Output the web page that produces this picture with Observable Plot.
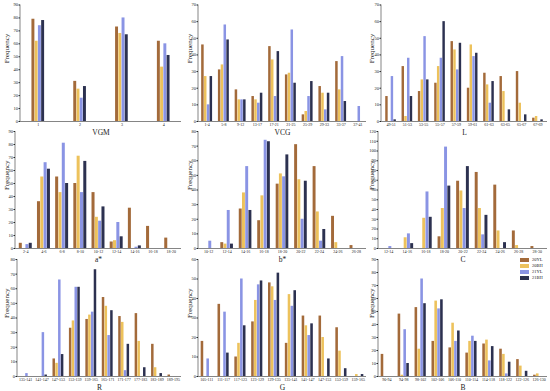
<!DOCTYPE html>
<html><head><meta charset="utf-8">
<script src="https://cdn.jsdelivr.net/npm/d3@7"></script>
<script src="https://cdn.jsdelivr.net/npm/@observablehq/plot@0.6"></script>
<style>
body{margin:0;background:#fff;}
#wrap{position:relative;width:550px;height:391px;overflow:hidden;font-family:"Liberation Serif",serif;}
#wrap svg{position:absolute;}
.lg{position:absolute;font-size:4.5px;line-height:6px;color:#222;}
.lg span{display:inline-block;width:9px;height:3.5px;margin-right:3px;vertical-align:middle;}
</style></head>
<body><div id="wrap"></div>
<script>
const SERIES = ["20YL","20BH","21YL","21BH"];
const COLORS = ["#a36a3a","#edc25c","#8a94e4","#2c3150"];

const vgmCats = ["1","2","3","4"];
const vgm20YL = [79,31,73,62];
const vgm20BH = [62,25,68,42];
const vgm21YL = [74,18,80,60];
const vgm21BH = [78,27,67,51];

const vcgCats = ["1-4","5-8","9-12","13-17","17-21","21-25","25-29","29-33","33-37","37-41"];
const vcg20YL = [46,31,19,15,45,28,4,21,36,0];
const vcg20BH = [27,34,13,13,37,29,6,17,19,0];
const vcg21YL = [10,58,13,11,15,55,15,7,39,9];
const vcg21BH = [27,49,13,17,42,23,24,17,12,0];

const lCats = ["49-51","51-53","53-55","55-57","57-59","59-61","61-63","63-65","65-67","67-69"];
const l20YL = [15,33,18,23,48,20,29,27,30,2];
const l20BH = [0,3,25,33,43,46,22,18,11,3];
const l21YL = [27,38,51,38,31,39,11,0,0,0];
const l21BH = [1,15,25,60,47,41,24,7,4,1];

const aCats = ["2-4","4-6","6-8","8-10","10-12","12-14","14-16","16-18","18-20"];
const a20YL = [4,36,55,50,43,5,31,17,8];
const a20BH = [0,55,43,71,24,6,0,0,0];
const a21YL = [3,66,81,43,21,20,1,0,0];
const a21BH = [4,61,50,67,32,9,2,0,0];

const bCats = ["10-12","12-14","14-16","16-18","18-20","20-22","22-24","24-26","26-28"];
const b20YL = [0,4,27,19,44,71,56,22,2];
const b20BH = [0,3,38,36,51,47,25,4,0];
const b21YL = [5,26,56,74,49,20,5,0,0];
const b21BH = [0,3,26,73,64,46,13,0,0];

const cCats = ["12-14","14-16","16-18","18-20","20-22","22-24","24-26","26-28","28-30"];
const c20YL = [0,0,0,12,69,78,65,18,2];
const c20BH = [0,11,31,41,59,41,18,3,0];
const c21YL = [2,15,58,104,41,14,0,0,0];
const c21BH = [0,5,32,64,84,34,6,0,0];

const rCats = ["135-141","141-147","147-153","153-159","159-165","165-171","171-177","177-183","183-189","189-195"];
const r20YL = [0,0,12,33,39,54,41,43,22,1];
const r20BH = [0,0,9,38,42,48,37,24,6,0];
const r21YL = [2,30,66,61,44,28,4,0,0,0];
const r21BH = [0,1,15,61,73,45,22,6,2,0];

const gCats = ["105-111","111-117","117-123","123-129","129-135","135-141","141-147","147-153","153-159","159-165"];
const g20YL = [18,37,10,28,48,17,31,31,25,0];
const g20BH = [0,0,17,39,46,42,26,20,13,1];
const g21YL = [9,33,50,47,39,36,21,0,0,0];
const g21BH = [0,12,26,49,53,44,27,9,4,1];

const bbCats = ["90-94","94-98","98-102","102-106","106-110","110-114","114-118","118-122","122-126","126-130"];
const bb20YL = [17,48,53,27,22,18,25,21,13,1];
const bb20BH = [0,1,21,58,41,27,28,17,8,2];
const bb21YL = [0,36,75,52,27,31,12,2,0,0];
const bb21BH = [0,10,56,59,35,27,23,11,4,0];

const rows = [{top:0,h:137,mt:4.5,mb:16},{top:127,h:135,mt:4,mb:14},{top:255,h:136,mt:4,mb:15}];
const cols = [{left:0,w:183,mr:2},{left:183,w:185,mr:2},{left:365,w:185,mr:3}];

const panels = [
  {label:"VGM", cats:vgmCats, vals:[vgm20YL,vgm20BH,vgm21YL,vgm21BH], ymax:90, r:0,c:0, ml:20, pi:0.69, po:0.27},
  {label:"VCG", cats:vcgCats, vals:[vcg20YL,vcg20BH,vcg21YL,vcg21BH], ymax:70, r:0,c:1, ml:15, pi:0.33, po:0.18},
  {label:"L", cats:lCats, vals:[l20YL,l20BH,l21YL,l21BH], ymax:70, r:0,c:2, ml:16, pi:0.33, po:0.25},
  {label:"a*", cats:aCats, vals:[a20YL,a20BH,a21YL,a21BH], ymax:90, r:1,c:0, ml:15, pi:0.27, po:0.2},
  {label:"b*", cats:bCats, vals:[b20YL,b20BH,b21YL,b21BH], ymax:80, r:1,c:1, ml:15, pi:0.3, po:0.2},
  {label:"C", cats:cCats, vals:[c20YL,c20BH,c21YL,c21BH], ymax:120, r:1,c:2, ml:13, pi:0.3, po:0.2},
  {label:"R", cats:rCats, vals:[r20YL,r20BH,r21YL,r21BH], ymax:80, r:2,c:0, ml:17, pi:0.32, po:0.15},
  {label:"G", cats:gCats, vals:[g20YL,g20BH,g21YL,g21BH], ymax:60, r:2,c:1, ml:15, pi:0.32, po:0.15},
  {label:"B", cats:bbCats, vals:[bb20YL,bb20BH,bb21YL,bb21BH], ymax:90, r:2,c:2, ml:13, pi:0.32, po:0.15}
];

const wrap = document.getElementById("wrap");
for (const p of panels) {
  const R = rows[p.r], C = cols[p.c];
  const data = [];
  p.cats.forEach((cat, j) => SERIES.forEach((s, i) => data.push({cat, series: s, value: p.vals[i][j]})));
  const band = d3.scaleBand(p.cats, [p.ml, C.w - C.mr]).paddingInner(p.pi).paddingOuter(p.po);
  const sw = band.bandwidth() / 4;
  const bars = SERIES.map((s, i) => Plot.barY(data.filter(d => d.series === s), {
    x: "cat", y: "value", fill: COLORS[i],
    insetLeft: i * sw + 0.15, insetRight: (3 - i) * sw + 0.15
  }));
  const svg = Plot.plot({
    width: C.w, height: R.h,
    marginLeft: p.ml, marginRight: C.mr, marginTop: R.mt, marginBottom: R.mb,
    style: {fontFamily: "Liberation Serif", background: "transparent", overflow: "visible", color: "#222"},
    x: {type: "band", domain: p.cats, paddingInner: p.pi, paddingOuter: p.po, round: false, axis: null},
    y: {domain: [0, p.ymax], axis: null},
    marks: [
      ...bars,
      Plot.ruleY([0], {stroke: "#333", strokeWidth: 0.6}),
      Plot.axisX({tickSize: 0, tickPadding: 2, fontSize: 4, label: null}),
      Plot.axisY({ticks: d3.range(0, p.ymax + 1, 10), tickSize: 1.5, tickPadding: 1, fontSize: 4.5, label: null}),
      Plot.text([p.label], {frameAnchor: "bottom", dy: 13, fontSize: 7.5, fill: "#222"}),
      Plot.text(["Frequency"], {frameAnchor: "left", rotate: -90, dx: -p.ml + 6, fontSize: 7, fill: "#222"})
    ]
  });
  d3.select(svg).append("line")
    .attr("x1", p.ml).attr("x2", p.ml).attr("y1", R.mt).attr("y2", R.h - R.mb)
    .attr("stroke", "#333").attr("stroke-width", 0.6);
  svg.style.left = C.left + "px";
  svg.style.top = R.top + "px";
  wrap.appendChild(svg);
}
const lg = document.createElement("div");
lg.className = "lg";
lg.style.left = "520px"; lg.style.top = "257px";
lg.innerHTML = SERIES.map((s, i) => `<div><span style="background:${COLORS[i]}"></span>${s}</div>`).join("");
wrap.appendChild(lg);
</script></body></html>
